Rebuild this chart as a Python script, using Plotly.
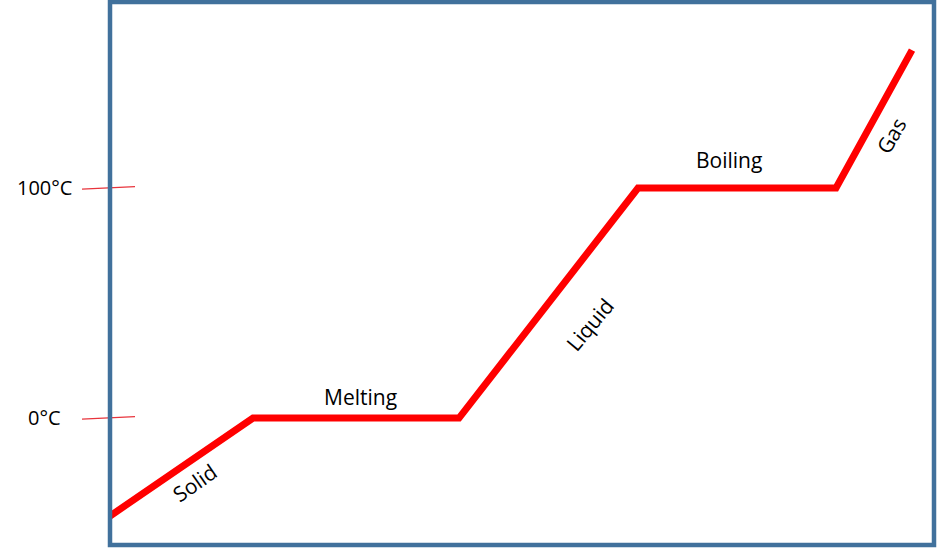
import plotly.graph_objects as go

# ---- data ----
time = [0, 14.3, 34.9, 52.8, 72.6, 80.2]          # arbitrary time units
temperature = [-42.6, 0, 0, 100, 100, 160]         # °C
phase_labels = ["Solid", "Melting", "Liquid", "Boiling", "Gas"]
tick_values = [0, 100]
tick_labels = ["0°C", "100°C"]

W, H = 937, 548
ML, MR, MT, MB = 110, 3, 2, 3
FONT = "Open Sans"

fig = go.Figure()
fig.add_trace(go.Scatter(
    x=time, y=temperature, mode="lines",
    line=dict(color="#FF0000", width=7),
    hoverinfo="skip", showlegend=False,
))

# phase labels placed relative to segment midpoints
label_style = [  # (xshift px, yshift px, angle)
    (13, -16, -35),
    (4, 21, 0),
    (41, -22, -50),
    (-8, 28, 0),
    (17, -17, -60),
]
for i, name in enumerate(phase_labels):
    xm = (time[i] + time[i + 1]) / 2
    ym = (temperature[i] + temperature[i + 1]) / 2
    dx, dy, ang = label_style[i]
    fig.add_annotation(
        x=xm, y=ym, xref="x", yref="y", text=name, showarrow=False,
        xanchor="center", yanchor="middle", xshift=dx, yshift=dy,
        textangle=ang, font=dict(family=FONT, size=21, color="black"),
    )

# temperature labels and small red tick strokes
plot_w = W - ML - MR
for v, t in zip(tick_values, tick_labels):
    fig.add_annotation(
        x=(44 - ML) / plot_w, y=v, xref="paper", yref="y", text=t,
        showarrow=False, xanchor="center", yanchor="middle", yshift=1,
        font=dict(family=FONT, size=20, color="black"),
    )
    fig.add_shape(
        type="line", xref="paper", yref="y",
        x0=(82 - ML) / plot_w, x1=(135 - ML) / plot_w,
        y0=v - 0.5, y1=v + 0.6,
        line=dict(color="#E8343C", width=1.3),
    )

# frame
fig.add_shape(
    type="rect", xref="paper", yref="paper", x0=0, x1=1, y0=0, y1=1,
    line=dict(color="#41719C", width=4.5), layer="above",
)

fig.update_layout(
    width=W, height=H,
    margin=dict(l=ML, r=MR, t=MT, b=MB),
    paper_bgcolor="white", plot_bgcolor="white",
    xaxis=dict(range=[0, 82.4], visible=False, fixedrange=True),
    yaxis=dict(range=[-55.2, 180.9], visible=False, fixedrange=True),
)

fig.write_html(
    "out.html",
    config={"displayModeBar": False},
    post_script="document.body.style.margin='0';document.body.style.overflow='hidden';",
)
